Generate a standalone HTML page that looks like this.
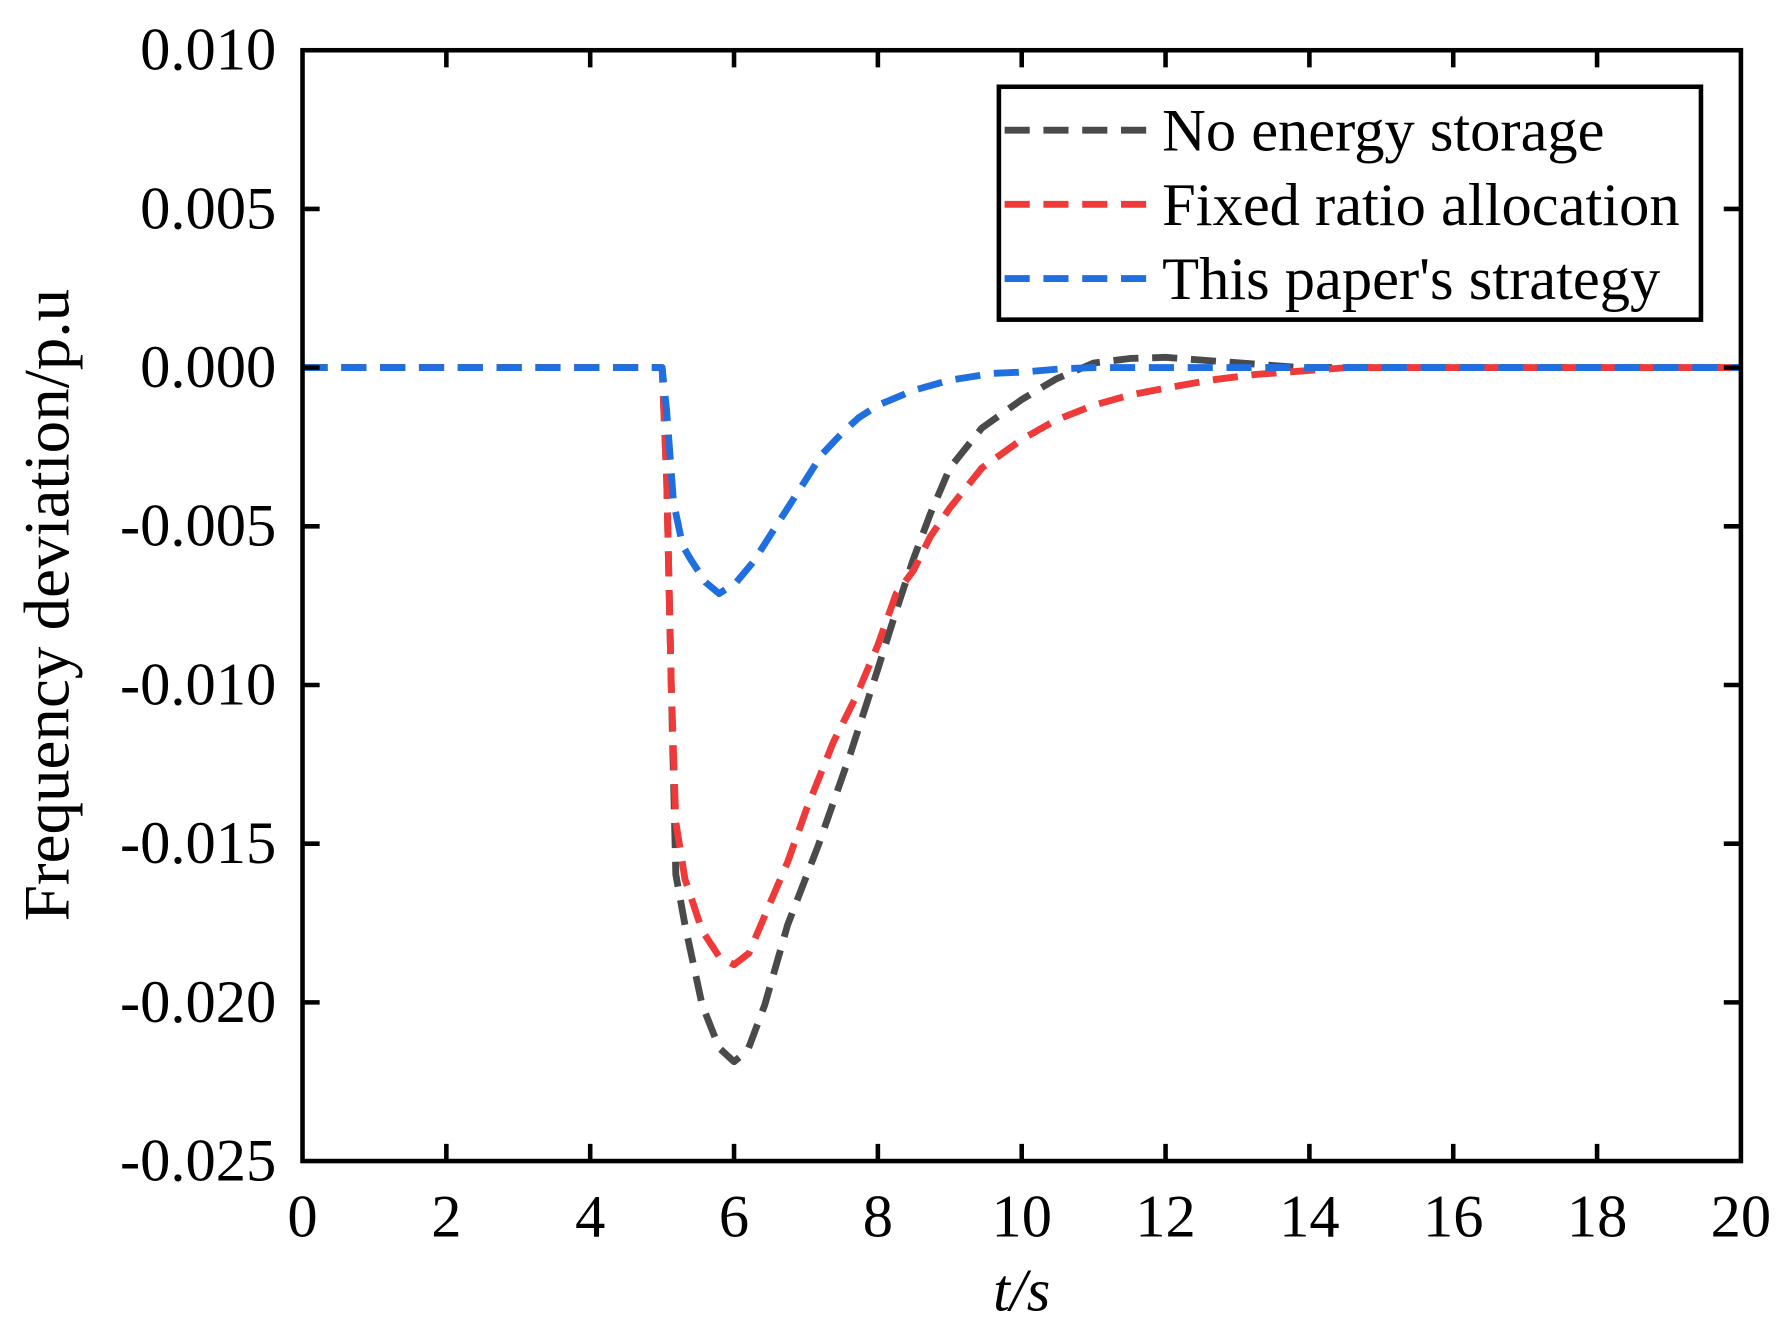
<!DOCTYPE html>
<html><head><meta charset="utf-8"><style>html,body{margin:0;padding:0;background:#fff}svg{display:block}</style></head><body>
<svg width="1790" height="1338" viewBox="0 0 1568 1172" preserveAspectRatio="none" xmlns="http://www.w3.org/2000/svg" font-family="Liberation Serif, serif">
<rect width="1568" height="1172" fill="#fff"/>
<g fill="none" stroke-width="6" stroke-dasharray="22 12" stroke-linejoin="round">
<polyline stroke="#4a4a4a" points="265,322 580,322 584,420 588,600 592,766 600,810 615,880 630,918 643,930 655,920 670,880 690,810 717,740 745,660 769,586 785,535 800,490 815,450 832,410 860,375 895,350 925,332 958,318 990,314 1021,313 1060,316 1100,319 1140,322 1525,322"/>
<polyline stroke="#f03a3a" points="265,322 580,322 584,420 588,600 592,720 600,770 615,815 630,838 643,845 656,835 675,790 690,755 706,710 730,650 750,610 769,565 785,520 800,500 815,470 832,445 860,410 895,385 925,368 958,355 990,346 1021,340 1060,333 1100,328 1140,325 1180,322 1525,322"/>
<polyline stroke="#1f6fe0" points="265,322 580,322 584,360 590,440 598,478 605,490 618,510 630,520 645,510 660,492 674,470 690,445 706,420 720,398 737,380 752,366 769,355 800,342 832,333 870,327 895,326 930,323 958,322 1525,322"/>
</g>
<rect x="265" y="44" width="1260" height="973" fill="none" stroke="#000" stroke-width="4"/>
<g stroke="#000" stroke-width="4">
<path d="M391,1017v-15M517,1017v-15M643,1017v-15M769,1017v-15M895,1017v-15M1021,1017v-15M1147,1017v-15M1273,1017v-15M1399,1017v-15"/>
<path d="M391,44v15M517,44v15M643,44v15M769,44v15M895,44v15M1021,44v15M1147,44v15M1273,44v15M1399,44v15"/>
<path d="M265,183h15M265,322h15M265,461h15M265,600h15M265,739h15M265,878h15"/>
<path d="M1525,183h-15M1525,322h-15M1525,461h-15M1525,600h-15M1525,739h-15M1525,878h-15"/>
</g>
<g font-size="53" fill="#000" text-anchor="end">
<text x="242" y="61">0.010</text><text x="242" y="200">0.005</text><text x="242" y="339">0.000</text>
<text x="242" y="478">-0.005</text><text x="242" y="617">-0.010</text><text x="242" y="756">-0.015</text>
<text x="242" y="895">-0.020</text><text x="242" y="1034">-0.025</text>
</g>
<g font-size="53" fill="#000" text-anchor="middle">
<text x="265" y="1083">0</text><text x="391" y="1083">2</text><text x="517" y="1083">4</text><text x="643" y="1083">6</text><text x="769" y="1083">8</text><text x="895" y="1083">10</text><text x="1021" y="1083">12</text><text x="1147" y="1083">14</text><text x="1273" y="1083">16</text><text x="1399" y="1083">18</text><text x="1525" y="1083">20</text>
<text x="895" y="1148" font-style="italic">t/s</text>
<text transform="translate(60,530) rotate(-90)" font-size="57">Frequency deviation/p.u</text>
</g>
<rect x="875" y="76" width="615" height="204" fill="#fff" stroke="#000" stroke-width="4"/>
<g stroke-width="6" stroke-dasharray="22 12">
<line x1="880" y1="114" x2="1005" y2="114" stroke="#4a4a4a"/>
<line x1="880" y1="179" x2="1005" y2="179" stroke="#f03a3a"/>
<line x1="880" y1="244" x2="1005" y2="244" stroke="#1f6fe0"/>
</g>
<g font-size="53" fill="#000">
<text x="1018" y="132">No energy storage</text>
<text x="1018" y="197">Fixed ratio allocation</text>
<text x="1018" y="262">This paper's strategy</text>
</g>
</svg>
</body></html>
